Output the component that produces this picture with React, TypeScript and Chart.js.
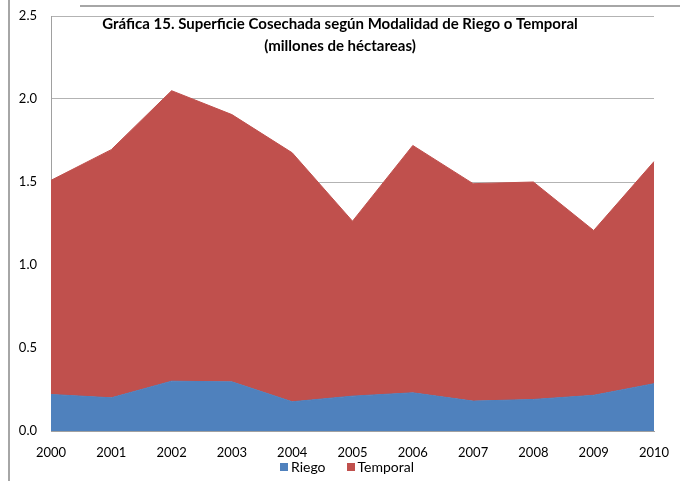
import React, { useEffect, useRef } from 'react';
import { Chart, registerables } from 'chart.js';

Chart.register(...registerables);

const years = ['2000', '2001', '2002', '2003', '2004', '2005', '2006', '2007', '2008', '2009', '2010'];
const riego = [0.22, 0.2, 0.3, 0.296, 0.176, 0.21, 0.23, 0.18, 0.19, 0.215, 0.285];
const temporal = [1.29, 1.495, 1.75, 1.61, 1.5, 1.054, 1.49, 1.31, 1.31, 0.993, 1.338];
const titleLines = [
  'Gráfica 15. Superficie Cosechada según Modalidad de Riego o Temporal',
  '(millones de héctareas)',
];
const seriesNames = ['Riego', 'Temporal'];
const seriesColors = ['#4F81BD', '#C0504D'];

const FONT = 'Lato, "Noto Sans", sans-serif';

const titlePlugin = {
  id: 'innerTitle',
  afterDraw(chart: any) {
    const ctx = chart.ctx;
    ctx.save();
    ctx.font = `bold 15px ${FONT}`;
    ctx.fillStyle = '#000';
    ctx.textAlign = 'center';
    ctx.textBaseline = 'middle';
    ctx.fillText(titleLines[0], 340, 24);
    ctx.fillText(titleLines[1], 340, 46);
    ctx.restore();
  },
};

export default function App() {
  const ref = useRef<HTMLCanvasElement | null>(null);

  useEffect(() => {
    document.body.style.margin = '0';
    if (!ref.current) return;
    const chart = new Chart(ref.current, {
      type: 'line',
      data: {
        labels: years,
        datasets: [
          {
            label: seriesNames[0],
            data: riego,
            backgroundColor: seriesColors[0],
            borderColor: seriesColors[0],
            borderWidth: 1,
            pointRadius: 0,
            fill: 'origin',
            tension: 0,
          },
          {
            label: seriesNames[1],
            data: temporal,
            backgroundColor: seriesColors[1],
            borderColor: seriesColors[1],
            borderWidth: 1,
            pointRadius: 0,
            fill: '-1',
            tension: 0,
          },
        ],
      },
      options: {
        responsive: false,
        animation: false,
        layout: { padding: { left: 0, right: 26, top: 16, bottom: 22 } },
        plugins: {
          legend: { display: false },
          tooltip: { enabled: false },
          title: { display: false },
        },
        scales: {
          x: {
            offset: false,
            grid: { display: false, drawTicks: true, tickLength: 14 },
            border: { color: '#a0a0a0', width: 1 },
            ticks: { font: { family: FONT, size: 13 }, color: '#000', padding: 0, maxRotation: 0 },
            afterFit: (s: any) => {
              s.height = 28;
            },
          },
          y: {
            stacked: true,
            min: 0,
            max: 2.5,
            grid: { color: '#b3b3b3', drawTicks: true, tickLength: 14, tickColor: 'rgba(0,0,0,0)' },
            border: { color: '#a0a0a0', width: 1 },
            ticks: {
              stepSize: 0.5,
              font: { family: FONT, size: 13 },
              color: '#000',
              padding: 0,
              callback: (v: any) => Number(v).toFixed(1),
            },
            afterFit: (s: any) => {
              s.width = 51;
            },
          },
        },
      },
      plugins: [titlePlugin],
    });
    return () => chart.destroy();
  }, []);

  return (
    <div style={{ position: 'relative', width: 680, height: 481, overflow: 'hidden' }}>
      <canvas ref={ref} width={680} height={481} style={{ display: 'block', position: 'absolute', left: 0, top: 0 }} />
      <div style={{ position: 'absolute', left: 8, top: 0, width: 2, height: 481, background: '#a6a6a6' }} />
      <div style={{ position: 'absolute', left: 80, top: 5, width: 600, height: 2, background: '#a6a6a6' }} />
      <div
        style={{
          position: 'absolute',
          left: 280,
          top: 459,
          height: 16,
          display: 'flex',
          alignItems: 'center',
          fontFamily: FONT,
          fontSize: 14,
          color: '#000',
          lineHeight: '16px',
        }}
      >
        {seriesNames.map((n, i) => (
          <div key={n} style={{ display: 'flex', alignItems: 'center', marginRight: i === 0 ? 21 : 0 }}>
            <span style={{ display: 'inline-block', width: 8, height: 8, background: seriesColors[i], marginRight: 3 }} />
            <span>{n}</span>
          </div>
        ))}
      </div>
    </div>
  );
}
